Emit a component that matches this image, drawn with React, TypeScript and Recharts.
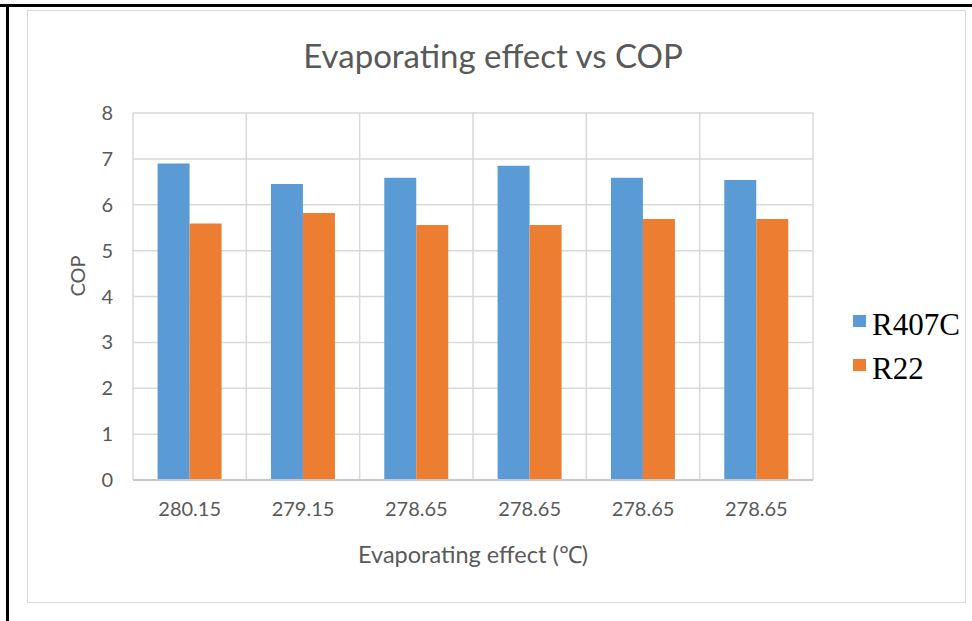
import React from 'react';
import { BarChart, Bar, XAxis, YAxis, CartesianGrid, Legend } from 'recharts';

const categories = ['280.15', '279.15', '278.65', '278.65', '278.65', '278.65'];
const r407c = [6.9, 6.45, 6.59, 6.85, 6.59, 6.54];
const r22 = [5.59, 5.82, 5.56, 5.56, 5.69, 5.69];
const yTicks = [0, 1, 2, 3, 4, 5, 6, 7, 8];
const seriesNames = ['R407C', 'R22'];
const COLORS = ['#5B9BD5', '#ED7D31'];

const data = categories.map((c, i) => ({ label: c, R407C: r407c[i], R22: r22[i] }));

const TEXT = '#595959';
const GRID = '#d9d9d9';

// vertical grid lines sit on the category boundaries, like Excel does
const boundaryLines = ({ offset }: any) => {
  const out: number[] = [];
  for (let i = 0; i <= categories.length; i++) {
    out.push(offset.left + (offset.width * i) / categories.length);
  }
  return out;
};

const renderLegend = () => (
  <div style={{ fontFamily: '"Liberation Serif", serif', fontSize: 31, color: '#000', lineHeight: '44px' }}>
    {seriesNames.map((n, i) => (
      <div key={n} style={{ display: 'flex', alignItems: 'center' }}>
        <span style={{ display: 'inline-block', width: 13, height: 12, background: COLORS[i], marginRight: 6, marginTop: -8 }} />
        <span>{n}</span>
      </div>
    ))}
  </div>
);

export default function App() {
  return (
    <div style={{ position: 'absolute', left: 0, top: 0, width: 972, height: 621, background: '#fff', overflow: 'hidden' }}>
      {/* outer black frame (top + left) */}
      <div style={{ position: 'absolute', left: 0, top: 4, width: 972, height: 3, background: '#000' }} />
      <div style={{ position: 'absolute', left: 6, top: 4, width: 3, height: 617, background: '#000' }} />
      {/* chart area border */}
      <div style={{ position: 'absolute', left: 27, top: 10, width: 937, height: 591, border: '1px solid #d9d9d9' }} />
      <div
        style={{
          position: 'absolute',
          left: 0,
          width: 972,
          top: 35,
          textAlign: 'center',
          fontFamily: 'Lato, sans-serif',
          fontSize: 33,
          color: TEXT,
          paddingLeft: 14,
          boxSizing: 'border-box',
        }}
      >
        Evaporating effect vs COP
      </div>
      <div style={{ position: 'absolute', left: 0, top: 0 }}>
        <BarChart
          width={972}
          height={621}
          data={data}
          margin={{ top: 113, right: 39, left: 73, bottom: 51 }}
          barCategoryGap="21.7%"
          barGap={0}
        >
          <CartesianGrid stroke={GRID} strokeWidth={1.5} verticalCoordinatesGenerator={boundaryLines} />
          <XAxis
            dataKey="label"
            height={90}
            tickLine={false}
            tickSize={0}
            tickMargin={22}
            axisLine={{ stroke: '#c8c8c8', strokeWidth: 2 }}
            tick={{ fill: TEXT, fontSize: 20, fontFamily: 'Lato, sans-serif' }}
            label={{
              value: 'Evaporating effect (℃)',
              position: 'insideBottom',
              offset: 7,
              fill: TEXT,
              fontSize: 23.5,
              fontFamily: 'Lato, sans-serif',
            }}
          />
          <YAxis
            width={60}
            domain={[0, 8]}
            ticks={yTicks}
            axisLine={false}
            tickLine={false}
            tickSize={0}
            tickMargin={20}
            tick={{ fill: TEXT, fontSize: 20, fontFamily: 'Lato, sans-serif' }}
            label={{
              value: 'COP',
              angle: -90,
              position: 'insideLeft',
              offset: 5,
              fill: TEXT,
              fontSize: 20,
              fontFamily: 'Lato, sans-serif',
            }}
          />
          <Legend
            layout="vertical"
            verticalAlign="top"
            align="right"
            content={renderLegend}
            wrapperStyle={{ position: 'absolute', left: 853, top: 303, width: 120 }}
          />
          {seriesNames.map((n, i) => (
            <Bar key={n} dataKey={n} fill={COLORS[i]} isAnimationActive={false} />
          ))}
        </BarChart>
      </div>
    </div>
  );
}
